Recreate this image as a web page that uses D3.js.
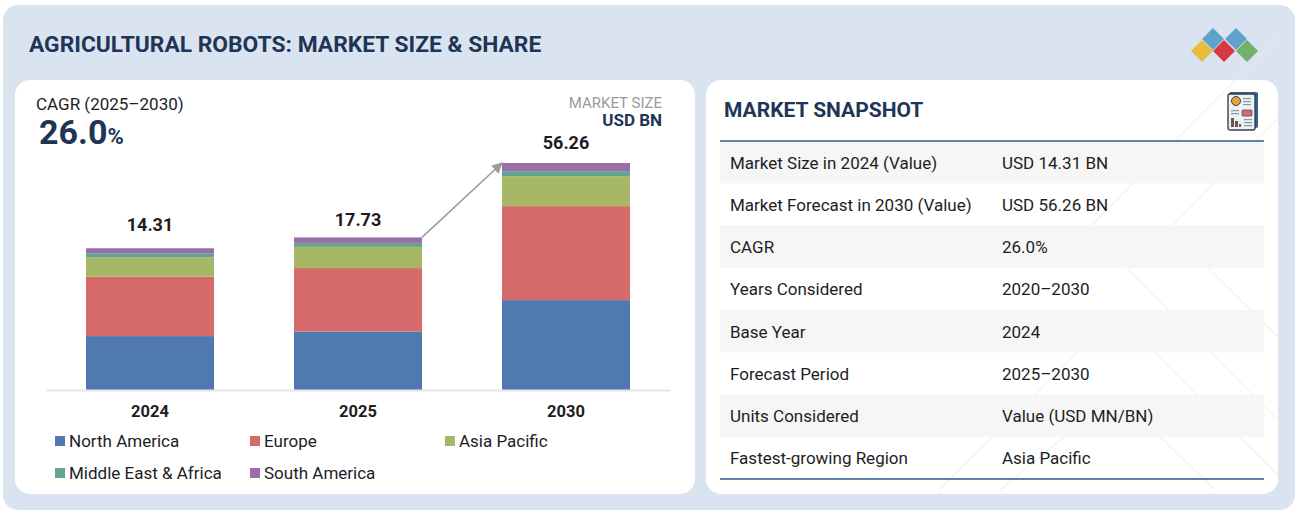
<!DOCTYPE html>
<html><head><meta charset="utf-8">
<style>html,body{margin:0;padding:0;background:#fff}svg{display:block}text{font-family:Roboto,sans-serif}</style>
<script src="https://cdnjs.cloudflare.com/ajax/libs/d3/7.9.0/d3.min.js"></script>
</head><body><svg id="c" width="1301" height="513"></svg>
<script>
const years = ["2024","2025","2030"];
const totals = [14.31,17.73,56.26];
const regions = ["North America","Europe","Asia Pacific","Middle East & Africa","South America"];
// approximate share of each bar (%)
const northAmerica = [38.0,38.3,39.6];
const europe = [41.9,41.6,41.4];
const asiaPacific = [13.7,13.9,13.2];
const middleEastAfrica = [2.8,2.6,2.2];
const southAmerica = [3.5,3.6,3.6];
const snapshotLabels = ["Market Size in 2024 (Value)","Market Forecast in 2030 (Value)","CAGR","Years Considered","Base Year","Forecast Period","Units Considered","Fastest-growing Region"];
const snapshotValues = ["USD 14.31 BN","USD 56.26 BN","26.0%","2020–2030","2024","2025–2030","Value (USD MN/BN)","Asia Pacific"];
const regionColors = ["#4f79b0","#d46a6a","#a6b866","#5fa58f","#9a6fa9"];

const svg = d3.select("#c");
const navy = "#1f3555", ink = "#1d1d1f";

// panels
svg.append("rect").attr("x",3).attr("y",5).attr("width",1292).attr("height",505).attr("rx",15).attr("fill","#dae4f0");
const panel = (x,w)=>svg.append("rect").attr("x",x).attr("y",80).attr("width",w).attr("height",414).attr("rx",15).attr("fill","#fff");
panel(15,680); panel(706,572);

// faint decoration behind the snapshot
const deco = [[[1278,37],[1088,229],[1281,423]],[[1278,118],[1169,229],[1281,340]],[[939,490],[1116,314],[1281,478]],[[1000,490],[1116,394],[1215,490]]];
svg.append("g").selectAll("path").data(deco).join("path").attr("d",d3.line()).attr("fill","none").attr("stroke","#ececec").attr("stroke-width",1);

svg.append("text").attr("x",29).attr("y",52).attr("font-size",22.8).attr("font-weight",700).attr("fill",navy).text("AGRICULTURAL ROBOTS: MARKET SIZE & SHARE");

// logo
const diamonds = [[1202,51,"#e9bd3b"],[1213,39,"#5fa3c9"],[1224,51,"#d8383f"],[1236,39,"#5fa3c9"],[1247,51,"#72b268"]];
svg.append("g").selectAll("path").data(diamonds).join("path")
 .attr("d",d=>`M${d[0]-11},${d[1]}L${d[0]},${d[1]-11}L${d[0]+11},${d[1]}L${d[0]},${d[1]+11}Z`).attr("fill",d=>d[2]);

// left header
svg.append("text").attr("x",36).attr("y",110).attr("font-size",17).attr("fill",ink).text("CAGR (2025–2030)");
const cg = svg.append("text").attr("x",39).attr("y",144).attr("fill",navy).attr("font-weight",700);
cg.append("tspan").attr("font-size",34).text("26.0");
cg.append("tspan").attr("font-size",22).text("%");
svg.append("text").attr("x",662).attr("y",108).attr("text-anchor","end").attr("font-size",15).attr("fill","#9a9a9a").text("MARKET SIZE");
svg.append("text").attr("x",662).attr("y",126).attr("text-anchor","end").attr("font-size",17).attr("font-weight",700).attr("fill",navy).text("USD BN");

// chart
const baseY = 390;
const x = d3.scaleBand().domain(years).range([46,670]).paddingInner(0.3846).paddingOuter(0.1923);
// the picture's bars follow a compressed (non-linear) scale
const y = d3.scalePow().exponent(0.344).domain([0,56.26]).range([baseY,163]);
const labelGap = d3.scaleOrdinal().domain(years).range([17,11,14]);
const rows = years.map((yr,i)=>({year:yr,total:totals[i],
  [regions[0]]:northAmerica[i],[regions[1]]:europe[i],[regions[2]]:asiaPacific[i],[regions[3]]:middleEastAfrica[i],[regions[4]]:southAmerica[i]}));
const stacked = d3.stack().keys(regions).offset(d3.stackOffsetExpand)(rows);
const segY = (d,v)=>baseY-(baseY-y(d.data.total))*v;
svg.append("g").selectAll("g").data(stacked).join("g").attr("fill",(d,i)=>regionColors[i])
 .selectAll("rect").data(d=>d).join("rect")
 .attr("x",d=>x(d.data.year)).attr("width",x.bandwidth())
 .attr("y",d=>segY(d,d[1])).attr("height",d=>segY(d,d[0])-segY(d,d[1]));
svg.append("g").attr("transform",`translate(0,${baseY})`).call(d3.axisBottom(x).tickSize(0).tickPadding(15))
 .call(g=>g.select(".domain").attr("stroke","#e6e6e6").attr("stroke-width",2))
 .call(g=>g.selectAll("text").attr("font-size",16.5).attr("font-weight",700).attr("font-family","Roboto").attr("fill",ink));
svg.append("g").selectAll("text").data(rows).join("text")
 .attr("x",d=>x(d.year)+x.bandwidth()/2).attr("y",d=>y(d.total)-labelGap(d.year)).attr("text-anchor","middle")
 .attr("font-size",18).attr("font-weight",700).attr("fill",ink).text(d=>d.total.toFixed(2));

// arrow
svg.append("defs").append("marker").attr("id","ah").attr("viewBox","0 0 10 10").attr("refX",9).attr("refY",5)
 .attr("markerWidth",11).attr("markerHeight",11).attr("markerUnits","userSpaceOnUse").attr("orient","auto")
 .append("path").attr("d","M0,0L10,5L0,10Z").attr("fill","#9a9a9a");
const r25 = rows[1], r30 = rows[2];
svg.append("line").attr("x1",x(r25.year)+x.bandwidth()).attr("y1",y(r25.total))
 .attr("x2",x(r30.year)).attr("y2",y(r30.total)).attr("stroke","#9a9a9a").attr("stroke-width",1.5).attr("marker-end","url(#ah)");

// legend
const legendX = d3.scaleOrdinal().domain(d3.range(3)).range([55,250,445]);
const leg = svg.append("g").selectAll("g").data(regions).join("g")
 .attr("transform",(d,i)=>`translate(${legendX(i%3)},${i<3?436:468})`);
leg.append("rect").attr("width",10).attr("height",10).attr("fill",(d,i)=>regionColors[i]);
leg.append("text").attr("x",14).attr("y",11).attr("font-size",17).attr("fill",ink).text(d=>d);

// snapshot
svg.append("text").attr("x",724).attr("y",117).attr("font-size",21).attr("font-weight",700).attr("fill",navy).text("MARKET SNAPSHOT");
const rowY = d3.scaleBand().domain(d3.range(snapshotLabels.length)).range([141,479]);
const tr = svg.append("g").selectAll("g").data(snapshotLabels).join("g").attr("transform",(d,i)=>`translate(0,${rowY(i)})`);
tr.filter((d,i)=>i%2===0).append("rect").attr("x",720).attr("width",544).attr("height",rowY.bandwidth()).attr("fill","#f5f5f5").attr("fill-opacity",.85);
tr.append("text").attr("x",730).attr("y",rowY.bandwidth()/2+6.5).attr("font-size",17).attr("fill",ink).text(d=>d);
tr.append("text").attr("x",1002).attr("y",rowY.bandwidth()/2+6.5).attr("font-size",17).attr("fill",ink).text((d,i)=>snapshotValues[i]);
[141,479].forEach(v=>svg.append("line").attr("x1",720).attr("x2",1264).attr("y1",v).attr("y2",v).attr("stroke","#5c84aa").attr("stroke-width",2.2));

// report icon
const ic = svg.append("g").attr("transform","translate(1228,92)");
ic.append("rect").attr("x",1).attr("width",29).attr("height",36).attr("rx",2).attr("fill","#2f5f8f");
ic.append("rect").attr("y",2).attr("width",27).attr("height",36).attr("rx",2).attr("fill","#eef1f4").attr("stroke","#39424e").attr("stroke-width",1.4);
ic.append("circle").attr("cx",8).attr("cy",9).attr("r",4.5).attr("fill","#e8a33d").attr("stroke","#39424e");
ic.append("rect").attr("x",14).attr("y",18).attr("width",10).attr("height",6).attr("rx",1).attr("fill","#d46a6a").attr("stroke","#39424e").attr("stroke-width",.7);
[[15,6],[15,9],[15,12],[3,18],[3,21],[16,27],[16,30],[16,33]].forEach(p=>ic.append("rect").attr("x",p[0]).attr("y",p[1]).attr("width",8).attr("height",1.2).attr("fill","#8a97a6"));
[[3,26,3,9],[7,29,3,6],[11,32,2,3]].forEach(b=>ic.append("rect").attr("x",b[0]).attr("y",b[1]).attr("width",b[2]).attr("height",b[3]).attr("fill","#6b5a48"));
</script></body></html>
